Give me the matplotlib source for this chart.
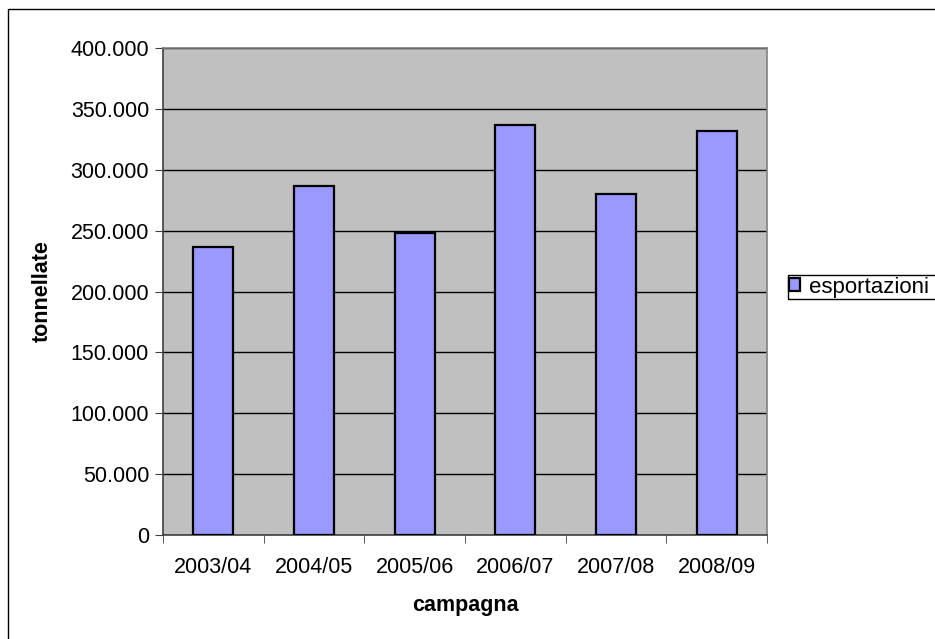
import numpy as np
import matplotlib.pyplot as plt
from matplotlib.patches import Rectangle
from matplotlib.ticker import FuncFormatter, MultipleLocator

plt.rcParams['font.family'] = ['Liberation Sans', 'DejaVu Sans']

campagne = ["2003/04", "2004/05", "2005/06", "2006/07", "2007/08", "2008/09"]
esportazioni = [236500, 286300, 247800, 336800, 279800, 332000]

W, H = 935, 639
fs = 15.5
fig = plt.figure(figsize=(W / 100, H / 100), dpi=100)
ax = fig.add_axes([163 / W, 1 - 535 / H, (767 - 163) / W, (535 - 48) / H])

# chart area border (cut at right/bottom like the original)
fig.patches.append(Rectangle((8 / W, -0.05), 1.1, 1 - 9 / H + 0.05,
                             transform=fig.transFigure, fill=False,
                             edgecolor="black", linewidth=1.0))
# legend frame, running off the right edge as in the original
fig.patches.append(Rectangle((788 / W, 1 - 299 / H), 0.2, 24 / H,
                             transform=fig.transFigure, fill=False,
                             edgecolor="black", linewidth=1.0))

x = np.arange(len(campagne))
ax.set_facecolor("#C0C0C0")
ax.bar(x, esportazioni, width=0.4, color="#9999FF", edgecolor="black",
       linewidth=1.6, label="esportazioni", zorder=3)

ax.set_xlim(-0.5, len(campagne) - 0.5)
ax.set_ylim(0, 400000)
ax.yaxis.set_major_locator(MultipleLocator(50000))
ax.yaxis.set_major_formatter(FuncFormatter(
    lambda v, p: "0" if v == 0 else f"{int(v):,}".replace(",", ".")))
ax.grid(axis="y", color="black", linewidth=1.0, zorder=1)

ax.set_xticks(x)
ax.set_xticklabels(campagne)
ax.set_xticks(np.arange(-0.5, len(campagne)), minor=True)
ax.tick_params(axis="x", which="major", length=0, labelsize=fs, pad=16)
ax.tick_params(axis="x", which="minor", length=6, color="#404040")
ax.tick_params(axis="y", length=6, labelsize=fs, color="#404040", pad=4)

for s in ("top", "right"):
    ax.spines[s].set_color("#808080")
    ax.spines[s].set_linewidth(1.2)
for s in ("left", "bottom"):
    ax.spines[s].set_color("#404040")
    ax.spines[s].set_linewidth(1.2)

ax.set_xlabel("campagna", fontsize=fs, fontweight="bold", labelpad=12)
ax.set_ylabel("tonnellate", fontsize=fs, fontweight="bold", labelpad=13)

ax.legend(loc="center left", bbox_to_anchor=(789 / W, 1 - 287 / H),
          bbox_transform=fig.transFigure, fontsize=16, frameon=False,
          handlelength=0.5, handleheight=0.5, handletextpad=0.4,
          borderpad=0.0, borderaxespad=0)

fig.savefig("out.png", dpi=100)
